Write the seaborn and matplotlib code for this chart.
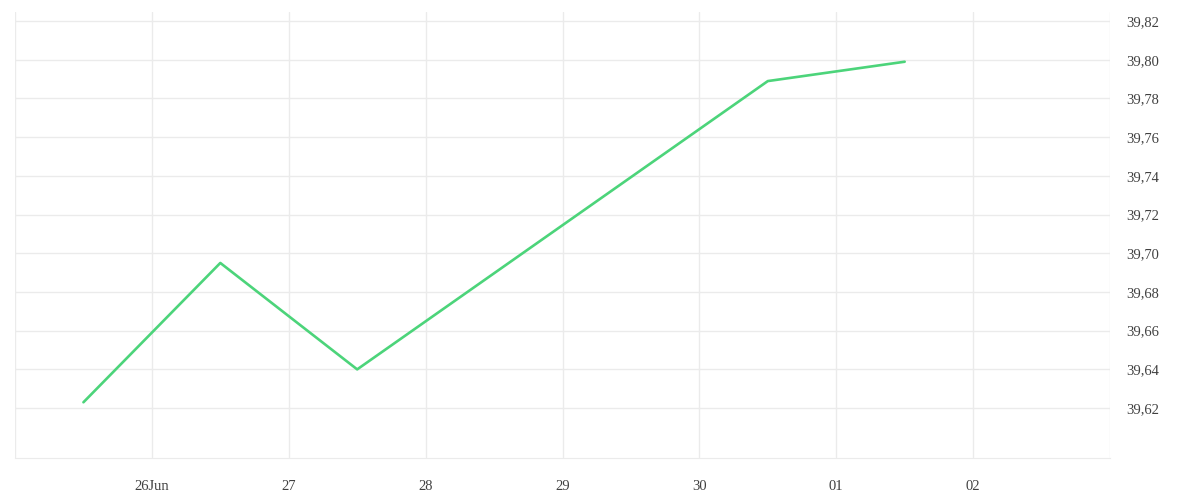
import numpy as np
import pandas as pd
import matplotlib
matplotlib.use("Agg")
import matplotlib.pyplot as plt
import seaborn as sns

# data (timestamps at midday)
dates = ["2025-06-25 12:00", "2025-06-26 12:00", "2025-06-27 12:00",
         "2025-06-30 12:00", "2025-07-01 12:00"]
values = [39.623, 39.695, 39.640, 39.789, 39.799]

tick_dates = pd.date_range("2025-06-25", "2025-07-03", freq="D")
tick_labels = ["", "26Jun", "27", "28", "29", "30", "01", "02", ""]
y_ticks = [39.62, 39.64, 39.66, 39.68, 39.70, 39.72, 39.74, 39.76, 39.78, 39.80, 39.82]

df = pd.DataFrame({"date": pd.to_datetime(dates), "value": values})

sns.set_style("white")
plt.rcParams["font.family"] = ["Liberation Serif", "DejaVu Serif"]

fig = plt.figure(figsize=(12, 5), dpi=100)
ax = fig.add_axes([15 / 1200, 42 / 500, 1095 / 1200, 446 / 500])

grid_c = "#ebebeb"
sns.lineplot(data=df, x="date", y="value", ax=ax, color="#4cd47a", linewidth=1.9)

ax.set_xlim(tick_dates[0], tick_dates[-1])
ax.set_ylim(39.5942, 39.8247)

ax.set_xticks(tick_dates)
ax.set_xticklabels(tick_labels)
ax.set_yticks(y_ticks)
ax.set_yticklabels([f"{v:.2f}".replace(".", ",") for v in y_ticks])

ax.yaxis.tick_right()
ax.tick_params(axis="y", length=0, pad=12, labelsize=10.5, labelcolor="#404040")
ax.tick_params(axis="x", length=7.5, width=1, color=grid_c, pad=8, labelsize=10.5,
               labelcolor="#404040")

ax.grid(True, color=grid_c, linewidth=1)
for s in ["top", "right", "left"]:
    ax.spines[s].set_visible(False)
ax.spines["bottom"].set_color(grid_c)
ax.set_xlabel("")
ax.set_ylabel("")

fig.savefig("out.png", dpi=100)
